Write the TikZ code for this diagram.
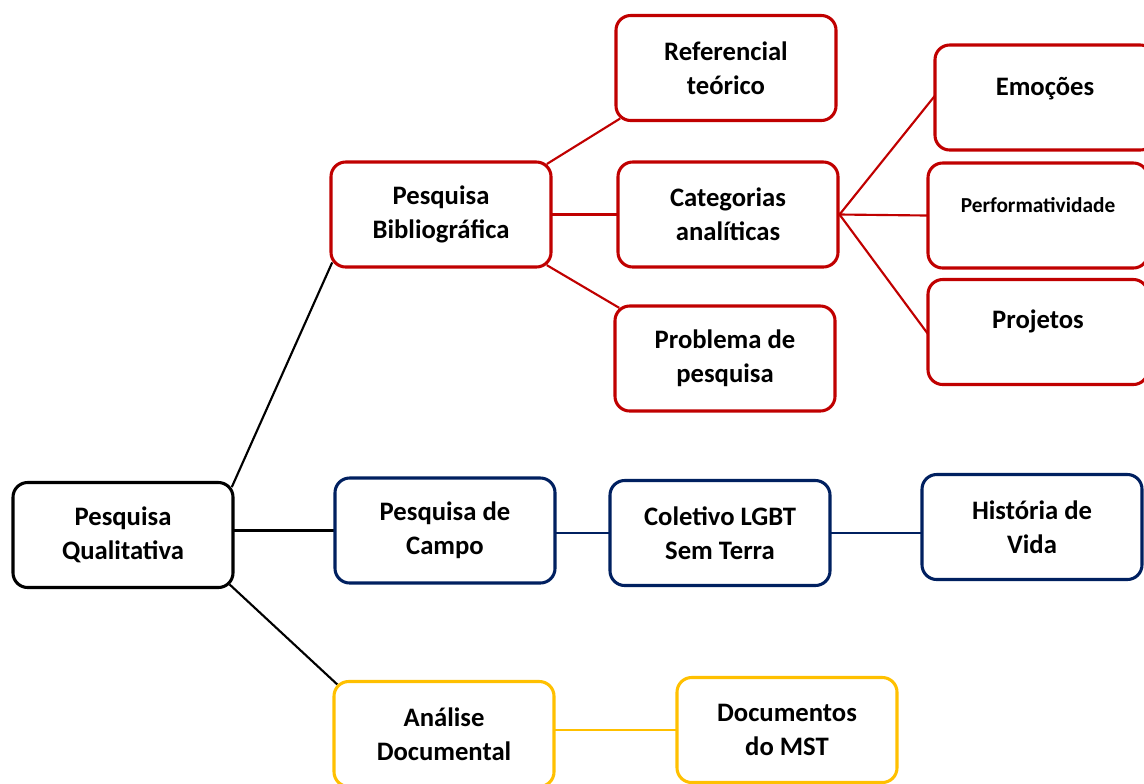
\documentclass[tikz,border=0pt]{standalone}
\usepackage{fontspec}
\setmainfont{Carlito}
\usetikzlibrary{backgrounds}
\definecolor{vermelho}{HTML}{C00000}
\definecolor{marinho}{HTML}{002060}
\definecolor{ouro}{HTML}{FFC000}
\tikzset{
  caixa/.style={draw, fill=white, rounded corners=11pt, line width=2.3pt,
    minimum width=165pt, minimum height=78.75pt, align=center,
    font=\bfseries\fontsize{20}{25.5}\selectfont},
  ligacao/.style={line width=1.6pt, shorten <=-5pt, shorten >=-5pt}
}
\begin{document}
\begin{tikzpicture}[x=0.75pt, y=-0.75pt]
		\useasboundingbox (0,0) rectangle (1144,783);
		\node[caixa, draw=black] (qual) at (123,535) {Pesquisa\\Qualitativa};
		\node[caixa, draw=vermelho] (bib) at (441,214.5) {Pesquisa\\Bibliográfica};
		\node[caixa, draw=vermelho] (ref) at (726,68) {Referencial\\teórico};
		\node[caixa, draw=vermelho] (cat) at (728,214.5) {Categorias\\analíticas};
		\node[caixa, draw=vermelho] (prob) at (725,358.5) {Problema de\\pesquisa};
		\node[caixa, draw=vermelho, text depth=17pt] (emo) at (1045,97.5) {Emoções};
		\node[caixa, draw=vermelho, text depth=16pt, font=\bfseries\fontsize{16}{20}\selectfont] (perf) at (1038,215.5) {Performatividade};
		\node[caixa, draw=vermelho, text depth=19pt] (proj) at (1038,332) {Projetos};
		\node[caixa, draw=marinho] (campo) at (445,530.5) {Pesquisa de\\Campo};
		\node[caixa, draw=marinho] (colet) at (720,533) {Coletivo LGBT\\Sem Terra};
		\node[caixa, draw=marinho] (hist) at (1032,527) {História de\\Vida};
		\node[caixa, draw=ouro] (ana) at (444,734) {Análise\\Documental};
		\node[caixa, draw=ouro] (doc) at (787,730) {Documentos\\do MST};

		\begin{scope}[on background layer]
		\draw[ligacao] (qual.north east) -- (bib.south west);
		\draw[ligacao] (qual.east |- campo.west) -- (campo.west);
		\draw[ligacao] (qual.south east) -- (ana.north west);
		\draw[ligacao, vermelho] (bib.north east) -- (ref.south west);
		\draw[ligacao, vermelho] (bib.east) -- (cat.west);
		\draw[ligacao, vermelho] (bib.south east) -- (prob.north west);
		\draw[ligacao, vermelho] (cat.east) -- (emo.west);
		\draw[ligacao, vermelho] (cat.east) -- (perf.west);
		\draw[ligacao, vermelho] (cat.east) -- (proj.west);
		\draw[ligacao, marinho] (campo.east |- colet.west) -- (colet.west);
		\draw[ligacao, marinho] (colet.east) -- (colet.east -| hist.west);
		\draw[ligacao, ouro, line width=1.5pt] (ana.east |- doc.west) -- (doc.west);
		\end{scope}
	\end{tikzpicture}
\end{document}
